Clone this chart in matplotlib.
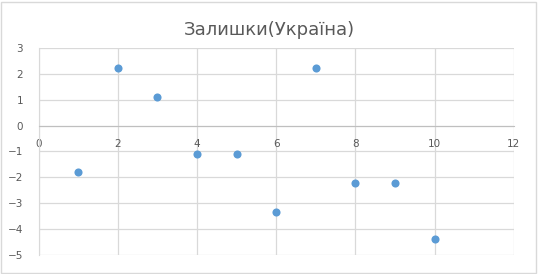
import matplotlib
matplotlib.use("Agg")
import matplotlib.pyplot as plt
from matplotlib.patches import Rectangle

x_values = [1, 2, 3, 4, 5, 6, 7, 8, 9, 10]
residuals = [-1.8, 2.22, 1.1, -1.1, -1.1, -3.35, 2.22, -2.2, -2.2, -4.4]
x_ticks = [0, 2, 4, 6, 8, 10, 12]
y_ticks = [-5, -4, -3, -2, -1, 0, 1, 2, 3]
title = "Залишки(Україна)"

fig = plt.figure(figsize=(5.38, 2.74), dpi=100)
fig.patches.append(Rectangle((0.002, 0.004), 0.994, 0.99, transform=fig.transFigure,
                             fill=False, edgecolor="#d9d9d9", linewidth=1))
ax = fig.add_axes([0.0716, 0.0693, 0.8834, 0.7557])
ax.scatter(x_values, residuals, s=34, color="#5b9bd5", zorder=3, linewidths=0)
ax.set_xlim(0, 12)
ax.set_ylim(-5, 3)
ax.set_xticks(x_ticks)
ax.set_yticks(y_ticks)
ax.grid(True, color="#d9d9d9", linewidth=0.9)
ax.set_axisbelow(True)
for s in ["top", "right"]:
    ax.spines[s].set_visible(False)
ax.spines["left"].set_color("#d9d9d9")
ax.spines["bottom"].set_position(("data", 0))
ax.spines["bottom"].set_color("#bfbfbf")
ax.tick_params(length=0, labelsize=7.5, labelcolor="#595959")
ax.tick_params(axis="y", pad=11)
ax.tick_params(axis="x", pad=10)
fig.text(0.5, 0.89, title, ha="center", va="center", fontsize=13, color="#595959")
fig.savefig("out.png", dpi=100)
